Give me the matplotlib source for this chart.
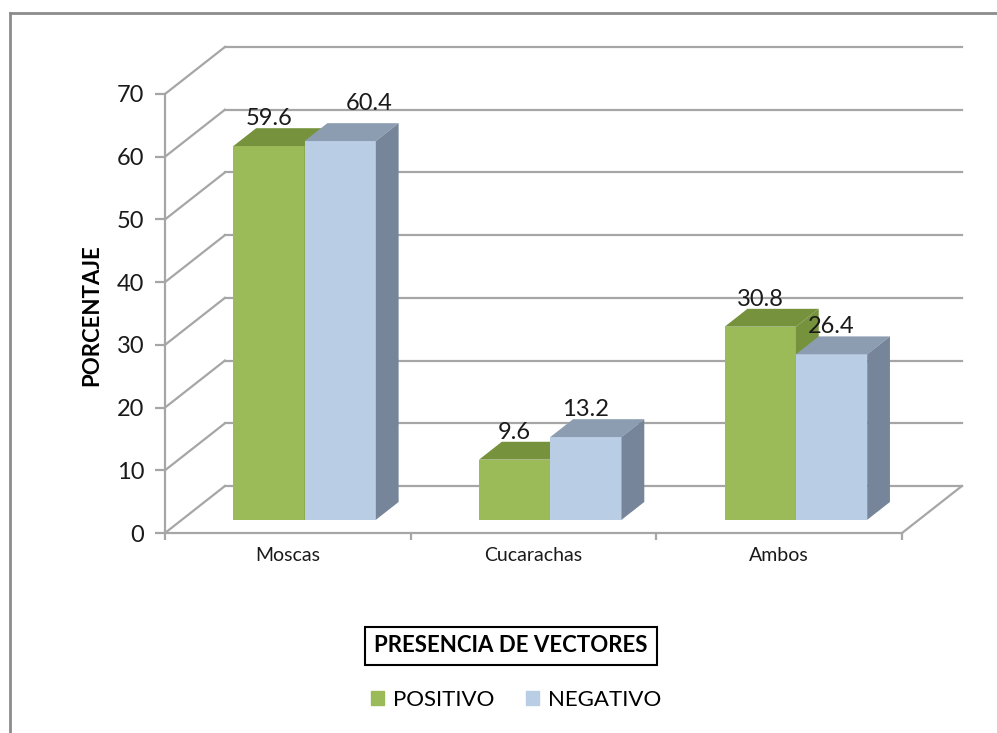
import matplotlib.pyplot as plt
from matplotlib.patches import Polygon, Patch
from matplotlib.lines import Line2D

# datos
categorias = ['Moscas', 'Cucarachas', 'Ambos']
positivo = [59.6, 9.6, 30.8]
negativo = [60.4, 13.2, 26.4]
series = ['POSITIVO', 'NEGATIVO']
yticks = [0, 10, 20, 30, 40, 50, 60, 70]

# colores (frente, tapa, lado)
col_pos = ('#9BBB59', '#76923C', '#76923C')
col_neg = ('#B9CDE5', '#8D9DB1', '#76859A')
gris = '#A6A6A6'

plt.rcParams['font.family'] = ['Lato', 'DejaVu Sans']

W, H = 997, 733
fig = plt.figure(figsize=(W / 100, H / 100), dpi=100)
ax = fig.add_axes([165 / W, (H - 533) / H, (902 - 165) / W, (533 - 94) / H])
ax.set_xlim(0, 3)
ax.set_ylim(0, 70)

# profundidad de la pared (en unidades de datos)
DX = 60 / 246
DY = 47 / 62.7 * 10
f0, f1 = 0.28, 0.66  # posicion de las barras dentro de la profundidad

# pared del fondo y pared lateral
for v in yticks:
    ax.plot([DX, 3 + DX], [v + DY, v + DY], color=gris, lw=1.6, zorder=1, clip_on=False)
    ax.plot([0, DX], [v, v + DY], color=gris, lw=1.6, zorder=1, clip_on=False)
ax.plot([3, 3 + DX], [0, DY], color=gris, lw=1.6, zorder=1, clip_on=False)

# barras 3D
bw = 0.29
x0 = [i + 0.5 for i in range(len(categorias))]
dxa, dya = f0 * DX, f0 * DY
dxb, dyb = f1 * DX, f1 * DY
for vals, cols, off in [(positivo, col_pos, -bw), (negativo, col_neg, 0)]:
    for xc, v in zip(x0, vals):
        xl = xc + off + dxa
        xr = xl + bw
        ax.bar(xl, v, width=bw, bottom=dya, align='edge', color=cols[0], zorder=3)
        ax.add_patch(Polygon([(xl, v + dya), (xr, v + dya), (xr - dxa + dxb, v + dyb),
                              (xl - dxa + dxb, v + dyb)], closed=True,
                             facecolor=cols[1], edgecolor='none', zorder=3))
        ax.add_patch(Polygon([(xr, dya), (xr - dxa + dxb, dyb), (xr - dxa + dxb, v + dyb),
                              (xr, v + dya)], closed=True,
                             facecolor=cols[2], edgecolor='none', zorder=3))

# etiquetas de datos
for vals, off in [(positivo, -bw / 2), (negativo, bw / 2)]:
    for i, (xc, v) in enumerate(zip(x0, vals)):
        dx_pt, dy_pt = 0, 7
        if i == 0 and off > 0:
            dx_pt, dy_pt = 21, 14
        ax.annotate(f'{v:.1f}', (xc + off + dxa, v + dyb), xytext=(dx_pt, dy_pt),
                    textcoords='offset points', ha='center', va='center',
                    fontsize=17, color='#1a1a1a', zorder=5, annotation_clip=False)

# ejes
for s in ['top', 'right']:
    ax.spines[s].set_visible(False)
for s in ['left', 'bottom']:
    ax.spines[s].set_color(gris)
    ax.spines[s].set_linewidth(1.6)
ax.set_yticks(yticks)
ax.tick_params(axis='y', length=7, width=1.6, color=gris, labelsize=17, pad=8,
               labelcolor='#1a1a1a')
ax.set_xticks([0, 1, 2, 3])
ax.set_xticklabels([])
ax.tick_params(axis='x', length=5, width=1.6, color=gris)
ax.set_xticks(x0, minor=True)
ax.set_xticklabels(categorias, minor=True, family=['Liberation Sans Narrow', 'Lato'],
                   fontsize=14, color='#1a1a1a')
ax.tick_params(axis='x', which='minor', length=0, pad=10)
ax.patch.set_alpha(0)

fig.text(92 / W, 1 - 315 / H, 'PORCENTAJE', rotation=90, fontsize=16, fontweight='bold',
         ha='center', va='center')
fig.text(511 / W, 1 - 646 / H, 'PRESENCIA DE VECTORES', fontsize=16, fontweight='bold',
         ha='center', va='center',
         bbox=dict(boxstyle='square,pad=0.4', fc='white', ec='black', lw=1.5))

handles = [Patch(color=col_pos[0]), Patch(color=col_neg[0])]
fig.legend(handles, series, loc='center', bbox_to_anchor=(516 / W, 1 - 700 / H), ncol=2,
           frameon=False, fontsize=16, handlelength=0.6, handleheight=0.6,
           handletextpad=0.4, columnspacing=1.4)

# borde del grafico
fig.add_artist(Line2D([10 / W, 10 / W], [0, 1 - 13 / H], color='#8C8C8C', lw=2))
fig.add_artist(Line2D([10 / W, 1], [1 - 13 / H, 1 - 13 / H], color='#8C8C8C', lw=2))

fig.savefig('out.png', dpi=100)
